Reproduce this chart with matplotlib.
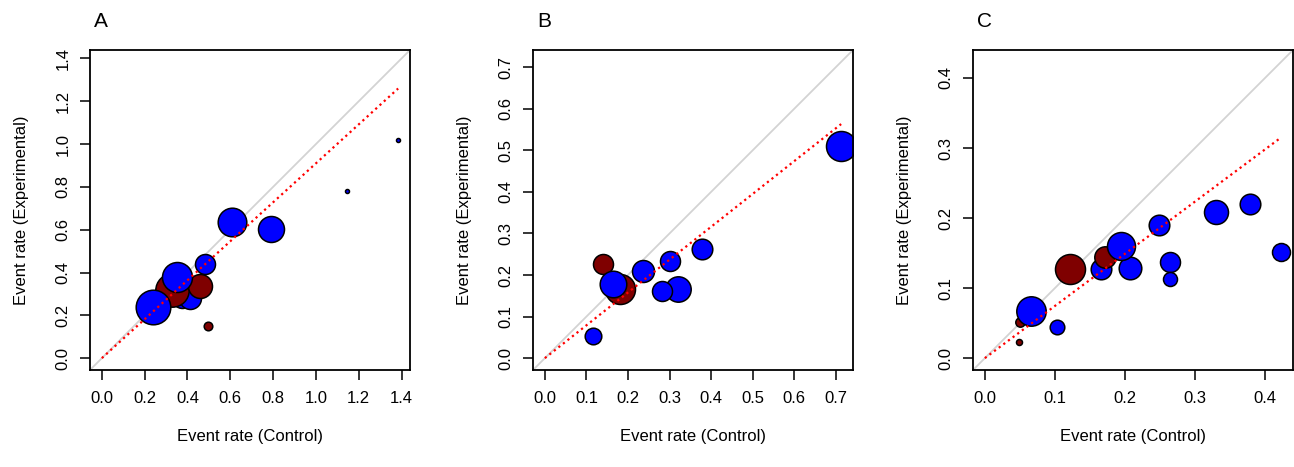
import matplotlib
matplotlib.use("Agg")
import matplotlib.pyplot as plt
import numpy as np

plt.rcParams['font.family'] = ['Liberation Sans', 'DejaVu Sans']

# panel A
a_x = [0.373, 0.412, 0.327, 0.238, 0.459, 0.353, 0.482, 0.498, 0.607, 0.790, 1.145, 1.384]
a_y = [0.280, 0.280, 0.319, 0.241, 0.339, 0.378, 0.440, 0.152, 0.638, 0.602, 0.781, 1.019]
a_w = [10.0, 11.0, 16.7, 17.3, 12.0, 15.0, 10.0, 4.3, 14.3, 13.0, 2.0, 2.0]
a_grp = ['e', 'e', 'c', 'e', 'c', 'e', 'e', 'c', 'e', 'e', 'e', 'e']
a_slope = 0.91

# panel B
b_x = [0.140, 0.181, 0.165, 0.116, 0.237, 0.300, 0.320, 0.281, 0.378, 0.713]
b_y = [0.2265, 0.167, 0.178, 0.054, 0.210, 0.233, 0.167, 0.162, 0.263, 0.510]
b_w = [10.0, 15.0, 13.3, 8.3, 11.0, 10.0, 12.7, 10.0, 10.3, 15.0]
b_grp = ['c', 'c', 'e', 'e', 'e', 'e', 'e', 'e', 'e', 'e']
b_slope = 0.79

# panel C
c_x = [0.049, 0.050, 0.0656, 0.103, 0.121, 0.166, 0.171, 0.207, 0.195, 0.248,
       0.265, 0.265, 0.330, 0.379, 0.423]
c_y = [0.0224, 0.051, 0.0667, 0.045, 0.127, 0.127, 0.145, 0.129, 0.160, 0.190,
       0.137, 0.113, 0.2086, 0.2205, 0.151]
c_w = [3.0, 4.7, 14.7, 7.3, 15.0, 10.3, 10.7, 11.3, 14.0, 10.3, 10.0, 7.0, 12.0, 10.3, 9.0]
c_grp = ['c', 'c', 'e', 'e', 'c', 'e', 'c', 'e', 'e', 'e', 'e', 'e', 'e', 'e', 'e']
c_slope = 0.745

panels = [
    ('A', a_x, a_y, a_w, a_grp, a_slope, np.arange(0, 1.41, 0.2)),
    ('B', b_x, b_y, b_w, b_grp, b_slope, np.arange(0, 0.71, 0.1)),
    ('C', c_x, c_y, c_w, c_grp, c_slope, np.arange(0, 0.41, 0.1)),
]
colors = {'e': '#0000ff', 'c': '#7f0000'}

W, H = 1294, 467
fig = plt.figure(figsize=(W / 100, H / 100), dpi=100)
lefts = [90, 533, 973]

for (lab, x, y, w, grp, slope, ticks), left in zip(panels, lefts):
    ax = fig.add_axes([left / W, 97 / H, 320 / W, 320 / H])
    m = max(max(x), max(y))
    lim = (-0.04 * m, 1.04 * m)
    ax.set_xlim(lim)
    ax.set_ylim(lim)

    ax.axline((0, 0), slope=1, color='#d3d3d3', lw=1.3, zorder=1)
    # bubble area from weight (radius in px)
    for xi, yi, wi, gi in zip(x, y, w, grp):
        ax.scatter([xi], [yi], s=(2 * wi * 0.72) ** 2, color=colors[gi],
                   edgecolor='black', linewidth=1.1, zorder=2)
    xs = np.array([0, max(x)])
    ax.plot(xs, slope * xs, color='red', ls=(0, (1, 1.6)), lw=1.6, zorder=3)

    ax.set_xticks(ticks)
    ax.set_yticks(ticks)
    ax.set_xticklabels(['%.1f' % t for t in ticks])
    ax.set_yticklabels(['%.1f' % t for t in ticks], rotation=90, va='center')
    ax.tick_params(direction='out', length=7, width=1.1, labelsize=12)
    ax.tick_params(axis='x', pad=8)
    ax.tick_params(axis='y', pad=7)
    for sp in ax.spines.values():
        sp.set_linewidth(1.3)

    ax.set_xlabel('Event rate (Control)', fontsize=12, va='center')
    ax.xaxis.set_label_coords(0.5, -0.209)
    ax.set_ylabel('Event rate (Experimental)', fontsize=12, va='center')
    ax.yaxis.set_label_coords(-0.2125, 0.5)

    ax.text(0.012, 1.088, lab, transform=ax.transAxes, fontsize=15,
            ha='left', va='center')

fig.savefig('out.png', dpi=100)
